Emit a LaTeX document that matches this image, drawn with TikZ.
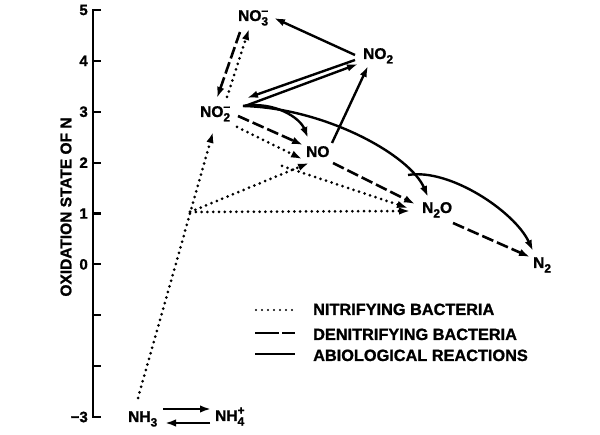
\documentclass[tikz,border=0pt]{standalone}
\usepackage{fontspec}
\setmainfont{Liberation Sans}[BoldFont={Liberation Sans Bold},BoldFeatures={FakeBold=1.2}]
\usetikzlibrary{arrows.meta,calc}
\newcommand\chsb[1]{\raisebox{-0.55ex}{\fontsize{12}{12}\selectfont\bfseries #1}}
\newcommand\chsbsp[2]{\rlap{\raisebox{-0.55ex}{\fontsize{12}{12}\selectfont\bfseries #1}}\raisebox{0.8ex}{\fontsize{12}{12}\selectfont\bfseries #2}}
\tikzset{
  chem/.style={inner sep=0pt, anchor=base west, font=\bfseries\fontsize{15.5}{15.5}\selectfont},
  tip/.style={-{Latex[length=11pt,width=7.5pt]}},
  dotline/.style={line width=3pt, dash pattern=on 0pt off 5.8pt, line cap=round},
  dashline/.style={line width=2.6pt, dash pattern=on 12pt off 4pt},
  solidline/.style={line width=2.4pt},
  ticklab/.style={inner sep=0pt, anchor=east, font=\bfseries\fontsize{15}{15}\selectfont},
  legtext/.style={inner sep=0pt, anchor=base west, font=\bfseries\fontsize{16.3}{16.3}\selectfont},
}
\begin{document}
\begin{tikzpicture}[x=1pt,y=-1pt]
\useasboundingbox (0,0) rectangle (600,435);
\fill[white] (0,0) rectangle (600,435);
% axis
\draw[line width=2.8pt] (101,10) -- (93,10) -- (93,417) -- (101,417);
\foreach \k in {1,...,7} \draw[line width=2.2pt] (93,{10+50.875*\k}) -- (101,{10+50.875*\k});
\foreach \k/\l in {0/5,1/4,2/3,3/2,4/1,5/0,8/{−3}} \node[ticklab] at (88,{10+50.875*\k}) {\l};
\node[inner sep=0pt, rotate=90, font=\bfseries\fontsize{15.5}{15.5}\selectfont] (ylab) at (66,207) {OXIDATION STATE OF N};
% species
\node[chem] (no3) at (238,21) {NO\chsbsp{3}{–}};
\node[chem] (no2) at (363,59) {NO\chsb{2}};
\node[chem] (no2m) at (200,117) {NO\chsbsp{2}{–}};
\node[chem] (no) at (306,157) {NO};
\node[chem] (n2o) at (422,213) {N\chsb{2}O};
\node[chem] (n2) at (533,268) {N\chsb{2}};
\node[chem] (nh3) at (128,422) {NH\chsb{3}};
\node[chem] (nh4) at (215,421) {NH\chsbsp{4}{+}};
\coordinate (j) at (190,212);
% nitrifying (dotted)
\draw[dotline,tip] ($(nh3.base west)+(10,-24)$) -- ($(no2m.base west)+(13,15)$);
\draw[dotline,tip] ($(no2m.base west)+(27,-20)$) -- ($(no3.base west)+(11,8)$);
\draw[dotline,tip] ($(no2m.base west)+(37,10)$) -- ($(no.base west)+(-4,2)$);
\draw[dotline,tip] (j) -- ($(no.base west)+(3,6)$);
\draw[dotline,tip] (j) -- ($(n2o.base west)+(-12,-2)$);
\draw[dotline,tip] ($(no.base west)+(-24,9)$) -- ($(n2o.base west)+(-14,-5)$);
% denitrifying (dashed)
\draw[dashline,tip] ($(no3.base west)+(2,11)$) -- ($(no2m.base west)+(17,-19)$);
\draw[dashline,tip] ($(no2m.base west)+(38,-1)$) -- ($(no.base west)+(-3,-12)$);
\draw[dashline,tip] ($(no.base west)+(27,6)$) -- ($(n2o.base west)+(-7,-9)$);
\draw[dashline,tip] ($(n2o.base west)+(31,10)$) -- ($(n2.base west)+(-3,-11)$);
% abiological (solid)
\draw[solidline,tip] ($(no2.base west)+(-8,-4)$) -- ($(no3.base west)+(36,-3)$);
\draw[solidline,tip] ($(no2.base west)+(-8,1)$) -- ($(no2m.base west)+(47,-19)$);
\draw[solidline,tip] ($(no2m.base west)+(45,-11)$) -- ($(no2.base west)+(-5,5)$);
\draw[solidline,tip] ($(no.base west)+(26,-14)$) -- ($(no2.base west)+(5,7)$);
\draw[solidline,tip] ($(no2m.base west)+(43,-11)$) .. controls ($(no2m.base west)+(75,-16)$) and ($(no2m.base west)+(100,1)$) .. ($(no.base west)+(2,-19)$);
\draw[solidline,tip] ($(no2m.base west)+(43,-11)$) .. controls ($(no2m.base west)+(125,-9)$) and ($(n2o.base west)+(-12,-58)$) .. ($(n2o.base west)+(6,-16)$);
\draw[solidline,tip] ($(n2o.base west)+(-14,-38)$) .. controls ($(n2o.base west)+(28,-45)$) and ($(n2.base west)+(-18,-56)$) .. ($(n2.base west)+(0,-17)$);
\draw[solidline,tip] ($(nh3.base west)+(35,-13)$) -- ($(nh4.base west)+(-4,-12)$);
\draw[solidline,tip] ($(nh4.base west)+(-5,2)$) -- ($(nh3.base west)+(37,1)$);
% legend
\node[legtext] (leg1) at (313,315) {NITRIFYING BACTERIA};
\node[legtext] (leg2) at (313,340) {DENITRIFYING BACTERIA};
\node[legtext] (leg3) at (313,361) {ABIOLOGICAL REACTIONS};
\draw[line width=2.4pt, dash pattern=on 0pt off 6pt, line cap=round] (256,310) -- (296,310);
\draw[line width=2.8pt, dash pattern=on 24pt off 3pt] (255,333) -- (295,333);
\draw[line width=2.4pt] (255,354) -- (295,354);
\end{tikzpicture}
\end{document}
